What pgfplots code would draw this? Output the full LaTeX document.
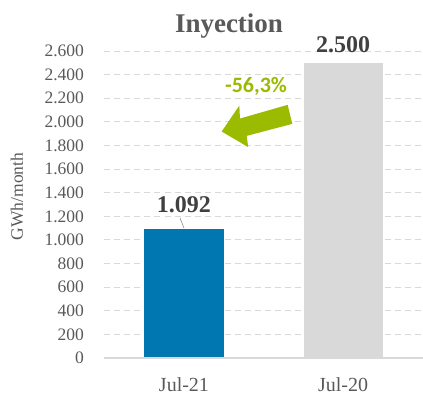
\documentclass[border=0pt]{standalone}
\usepackage{fontspec}
\setmainfont{Liberation Serif}
\newfontfamily\carlito{Carlito}
\usepackage{pgfplots}
\pgfplotsset{compat=1.18}
\definecolor{tickgray}{HTML}{595959}
\definecolor{labeldark}{HTML}{404040}
\definecolor{barblue}{HTML}{0077B0}
\definecolor{bargray}{HTML}{D9D9D9}
\definecolor{gridgray}{HTML}{D9D9D9}
\definecolor{arrowgreen}{HTML}{9BBB00}
\begin{document}
\begin{tikzpicture}
\useasboundingbox (-104.5pt,-42pt) rectangle (318.5pt,358pt);
\begin{axis}[
  scale only axis, width=318pt, height=307pt,
  xmin=-0.5, xmax=1.5, ymin=0, ymax=2600,
  xtick={0,1}, xticklabels={Jul-21,Jul-20},
  ytick distance=200,
  axis line style={draw=none},
  major tick length=0pt,
  ymajorgrids,
  grid style={gridgray, dash pattern=on 6pt off 4pt, line width=1pt},
  tick label style={font=\fontsize{17.5}{21}\selectfont, text=tickgray},
  /pgf/number format/assume math mode=true,
  /pgf/number format/1000 sep={.},
  yticklabel style={xshift=-17pt},
  xticklabel style={yshift=-16pt, font=\fontsize{20}{24}\selectfont},
  ylabel={GWh/month},
  ylabel style={at={(axis description cs:-0.275,0.526)}, anchor=center, font=\fontsize{17.5}{21}\selectfont, text=tickgray},
  ybar, bar width=79pt,
  nodes near coords={\pgfmathprintnumber[1000 sep={.}]{\pgfplotspointmeta}},
  nodes near coords style={font=\bfseries\fontsize{24}{28}\selectfont, text=labeldark},
  clip=false
]
\addplot[fill=barblue, draw=none, bar shift=0pt, nodes near coords style={yshift=13pt}] coordinates {(0,1092)};
\addplot[fill=bargray, draw=none, bar shift=0pt, nodes near coords style={yshift=6pt}] coordinates {(1,2500)};
\draw[gridgray, line width=1.2pt] (axis cs:-0.5,0) -- (axis cs:1.5,0);
\draw[tickgray!70, line width=0.6pt] (axis cs:-0.025,1186) -- (axis cs:0,1100);
\fill[arrowgreen] (axis cs:0.652,2144) -- (axis cs:0.352,2028) -- (axis cs:0.348,2138) -- (axis cs:0.237,1918) -- (axis cs:0.404,1786) -- (axis cs:0.394,1881) -- (axis cs:0.681,1983) -- cycle;
\node[font=\carlito\bfseries\fontsize{22}{26}\selectfont, text=arrowgreen] at (axis cs:0.453,2297) {-56,3\%};
\end{axis}
\node[font=\bfseries\fontsize{27}{32}\selectfont, text=tickgray, anchor=base] at (124.5pt,326pt) {Inyection};
\end{tikzpicture}
\end{document}
